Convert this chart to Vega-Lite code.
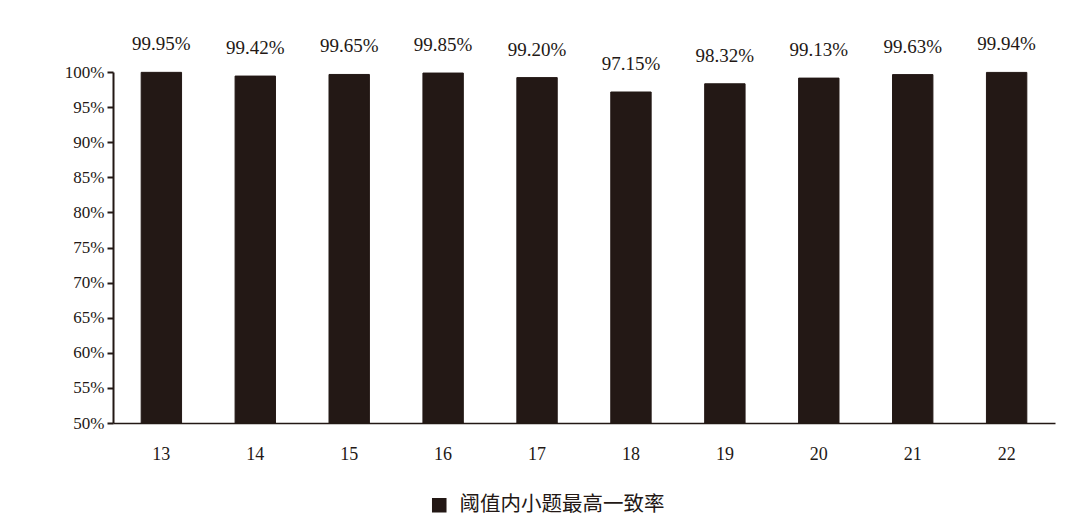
{
  "$schema": "https://vega.github.io/schema/vega-lite/v6.json",
  "width": 942,
  "height": 351,
  "autosize": "none",
  "padding": {"left": 113, "top": 72, "right": 25, "bottom": 94},
  "background": "white",
  "config": {
    "view": {"stroke": null},
    "font": "Liberation Serif",
    "axis": {"labelFont": "Liberation Serif", "labelColor": "#231815", "domainColor": "#231815", "tickColor": "#231815", "grid": false, "title": null}
  },
  "data": {
    "values": [
      {"group": "13", "rate": 0.9995, "series": "阈值内小题最高一致率"},
      {"group": "14", "rate": 0.9942, "series": "阈值内小题最高一致率"},
      {"group": "15", "rate": 0.9965, "series": "阈值内小题最高一致率"},
      {"group": "16", "rate": 0.9985, "series": "阈值内小题最高一致率"},
      {"group": "17", "rate": 0.992, "series": "阈值内小题最高一致率"},
      {"group": "18", "rate": 0.9715, "series": "阈值内小题最高一致率"},
      {"group": "19", "rate": 0.9832, "series": "阈值内小题最高一致率"},
      {"group": "20", "rate": 0.9913, "series": "阈值内小题最高一致率"},
      {"group": "21", "rate": 0.9963, "series": "阈值内小题最高一致率"},
      {"group": "22", "rate": 0.9994, "series": "阈值内小题最高一致率"}
    ]
  },
  "encoding": {
    "x": {
      "field": "group",
      "type": "ordinal",
      "sort": null,
      "scale": {"paddingInner": 0.57, "paddingOuter": 0.3},
      "axis": {"labelAngle": 0, "ticks": false, "labelPadding": 22, "labelFontSize": 18, "domainWidth": 1.5}
    },
    "y": {
      "field": "rate",
      "type": "quantitative",
      "scale": {"domain": [0.5, 1.0], "nice": false, "zero": false},
      "axis": {"values": [0.5, 0.55, 0.6, 0.65, 0.7, 0.75, 0.8, 0.85, 0.9, 0.95, 1.0], "format": ".0%", "labelFontSize": 17, "tickSize": 6, "tickWidth": 2, "domainWidth": 2, "labelPadding": 3}
    }
  },
  "layer": [
    {
      "mark": {"type": "bar", "stroke": "#231815", "strokeWidth": 1},
      "encoding": {
        "y2": {"datum": 0.5},
        "color": {
          "field": "series",
          "type": "nominal",
          "scale": {"range": ["#231815"]},
          "legend": {
            "title": null,
            "orient": "none",
            "legendX": 316,
            "legendY": 423,
            "symbolType": "square",
            "symbolSize": 170,
            "labelFont": "Noto Sans CJK SC",
            "labelFontSize": 20.5,
            "labelColor": "#231815",
            "labelOffset": 10,
            "labelLimit": 400
          }
        }
      }
    },
    {
      "mark": {"type": "text", "baseline": "bottom", "dy": -18, "fontSize": 19, "color": "#231815"},
      "encoding": {
        "text": {"field": "rate", "type": "quantitative", "format": ".2%"}
      }
    }
  ]
}
